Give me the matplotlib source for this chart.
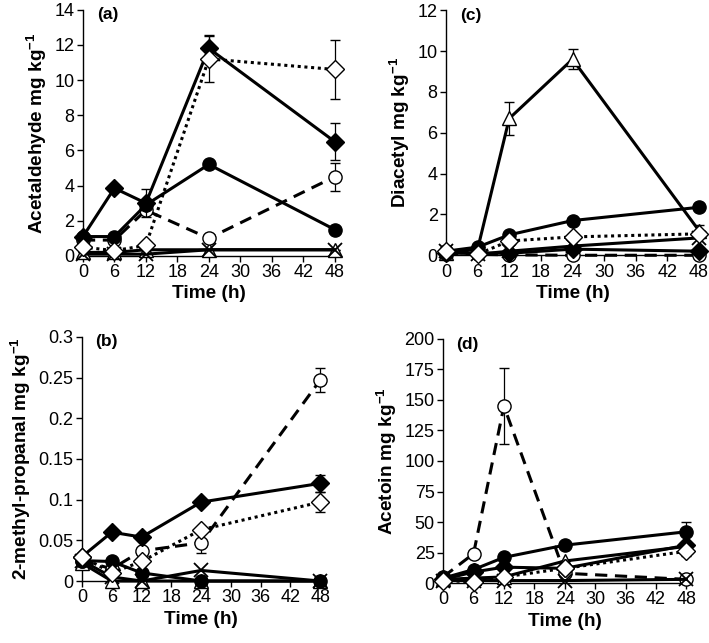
import matplotlib
matplotlib.use("Agg")
import matplotlib.pyplot as plt

plt.rcParams['font.family'] = ['Liberation Sans', 'DejaVu Sans']
plt.rcParams['mathtext.fontset'] = 'custom'
plt.rcParams['mathtext.rm'] = 'Liberation Sans'
plt.rcParams['mathtext.bf'] = 'Liberation Sans:bold'
plt.rcParams['mathtext.default'] = 'bf'

times = [0, 6, 12, 24, 48]
xticks = [0, 6, 12, 18, 24, 30, 36, 42, 48]

# Panel (a) Acetaldehyde
a_fd = [1.1, 3.85, 3.0, 11.8, 6.5];   a_fd_err = [0, 0, 0.8, 0.75, 1.05]
a_fc = [1.1, 1.1, 2.9, 5.2, 1.5];     a_fc_err = [0, 0, 0, 0.2, 0]
a_oc = [0.9, 0.9, 2.6, 1.0, 4.5];     a_oc_err = [0, 0, 0, 0, 0.8]
a_od = [0.5, 0.3, 0.6, 11.2, 10.6];   a_od_err = [0, 0, 0, 1.3, 1.7]
a_tr = [0.2, 0.2, 0.35, 0.35, 0.35]
a_x = [0.1, 0.1, 0.1, 0.35, 0.35]

# Panel (b) 2-methyl-propanal
b_fd = [0.03, 0.06, 0.054, 0.097, 0.12];   b_fd_err = [0, 0, 0, 0, 0.01]
b_fc = [0.025, 0.024, 0.01, 0.0, 0.0];     b_fc_err = [0, 0, 0, 0, 0]
b_oc = [0.025, 0.015, 0.037, 0.047, 0.247]; b_oc_err = [0, 0, 0, 0.012, 0.015]
b_od = [0.03, 0.01, 0.024, 0.063, 0.097];  b_od_err = [0, 0, 0, 0, 0.012]
b_tr = [0.022, 0.0, 0.0, 0.0, 0.0]
b_x = [0.025, 0.005, 0.0, 0.013, 0.0]

# Panel (c) Diacetyl
c_fd = [0.1, 0.1, 0.1, 0.3, 0.2];     c_fd_err = [0, 0, 0, 0, 0]
c_fc = [0.2, 0.4, 1.0, 1.7, 2.35];    c_fc_err = [0, 0, 0, 0.15, 0.2]
c_oc = [0.05, 0.05, 0.02, 0.0, 0.0];  c_oc_err = [0, 0, 0, 0, 0]
c_od = [0.2, 0.05, 0.7, 0.9, 1.05];   c_od_err = [0, 0, 0, 0, 0]
c_tr = [0.1, 0.3, 6.7, 9.6, 1.2];     c_tr_err = [0, 0, 0.8, 0.5, 0.3]
c_x = [0.2, 0.05, 0.2, 0.45, 0.85]

# Panel (d) Acetoin
d_fd = [3, 9, 13, 12, 31];      d_fd_err = [0, 0, 0, 0, 0]
d_fc = [4, 11, 21, 31, 42];     d_fc_err = [0, 0, 0, 3, 8]
d_oc = [5, 24, 145, 8, 3];      d_oc_err = [0, 0, 31, 0, 0]
d_od = [2, 1, 5, 12, 26];       d_od_err = [0, 0, 0, 0, 4]
d_tr = [3, 4, 5, 18, 30]
d_x = [2, 2, 2, 2, 3]

panels = [
    dict(pos=[0.117, 0.602, 0.355, 0.383], label='(a)', ylabel=r'Acetaldehyde mg kg$^{-1}$',
         ylim=14, yticks=[0, 2, 4, 6, 8, 10, 12, 14],
         fd=(a_fd, a_fd_err), fc=(a_fc, a_fc_err), oc=(a_oc, a_oc_err), od=(a_od, a_od_err),
         tr=(a_tr, [0]*5), x=a_x),
    dict(pos=[0.1157, 0.0964, 0.336, 0.3796], label='(b)', ylabel=r'2-methyl-propanal mg kg$^{-1}$',
         ylim=0.3, yticks=[0, 0.05, 0.1, 0.15, 0.2, 0.25, 0.3],
         fd=(b_fd, b_fd_err), fc=(b_fc, b_fc_err), oc=(b_oc, b_oc_err), od=(b_od, b_od_err),
         tr=(b_tr, [0]*5), x=b_x),
    dict(pos=[0.629, 0.603, 0.357, 0.381], label='(c)', ylabel=r'Diacetyl mg kg$^{-1}$',
         ylim=12, yticks=[0, 2, 4, 6, 8, 10, 12],
         fd=(c_fd, c_fd_err), fc=(c_fc, c_fc_err), oc=(c_oc, c_oc_err), od=(c_od, c_od_err),
         tr=(c_tr, c_tr_err), x=c_x),
    dict(pos=[0.625, 0.0933, 0.343, 0.3795], label='(d)', ylabel=r'Acetoin mg kg$^{-1}$',
         ylim=200, yticks=[0, 25, 50, 75, 100, 125, 150, 175, 200],
         fd=(d_fd, d_fd_err), fc=(d_fc, d_fc_err), oc=(d_oc, d_oc_err), od=(d_od, d_od_err),
         tr=(d_tr, [0]*5), x=d_x),
]

fig = plt.figure(figsize=(7.09, 6.43), dpi=100)

lw = 2.2
ms = 9.5
for p in panels:
    ax = fig.add_axes(p['pos'])
    common = dict(lw=lw, color='black', mec='black', mew=1.0, clip_on=False,
                  elinewidth=0.9, capsize=3.5, ecolor='black')
    # triangle
    ax.errorbar(times, p['tr'][0], yerr=p['tr'][1], marker='^', ms=ms + 0.5, mfc='white', ls='-', zorder=3, **common)
    # open circle dashed
    ax.errorbar(times, p['oc'][0], yerr=p['oc'][1], marker='o', ms=ms, mfc='white', ls=(0, (4, 2.5)), zorder=4, **common)
    # filled circle
    ax.errorbar(times, p['fc'][0], yerr=p['fc'][1], marker='o', ms=ms, mfc='black', ls='-', zorder=5, **common)
    # filled diamond
    ax.errorbar(times, p['fd'][0], yerr=p['fd'][1], marker='D', ms=ms, mfc='black', ls='-', zorder=5, **common)
    # X series
    ax.plot(times, p['x'], color='black', lw=lw, marker='x', ms=ms + 1, mew=1.3, clip_on=False, zorder=6)
    # open diamond dotted
    ax.errorbar(times, p['od'][0], yerr=p['od'][1], marker='D', ms=ms, mfc='white', ls=(0, (1, 1.2)), zorder=7, **common)

    ax.set_xlim(0, 48)
    ax.set_ylim(0, p['ylim'])
    ax.set_xticks(xticks)
    ax.set_yticks(p['yticks'])
    ax.set_yticklabels(['{:g}'.format(v) for v in p['yticks']])
    for s in ['top', 'right']:
        ax.spines[s].set_visible(False)
    ax.spines['left'].set_linewidth(1.0)
    ax.spines['bottom'].set_linewidth(1.0)
    ax.tick_params(direction='out', length=4, width=1.0, labelsize=13, pad=2)
    ax.set_xlabel('Time (h)', fontsize=13.7, fontweight='bold', labelpad=3)
    ax.set_ylabel(p['ylabel'], fontsize=13.7, fontweight='bold', labelpad=4)
    ax.text(0.055, 1.01, p['label'], transform=ax.transAxes, fontsize=12.5,
            fontweight='bold', va='top', ha='left')

fig.savefig('out.png', dpi=100)
